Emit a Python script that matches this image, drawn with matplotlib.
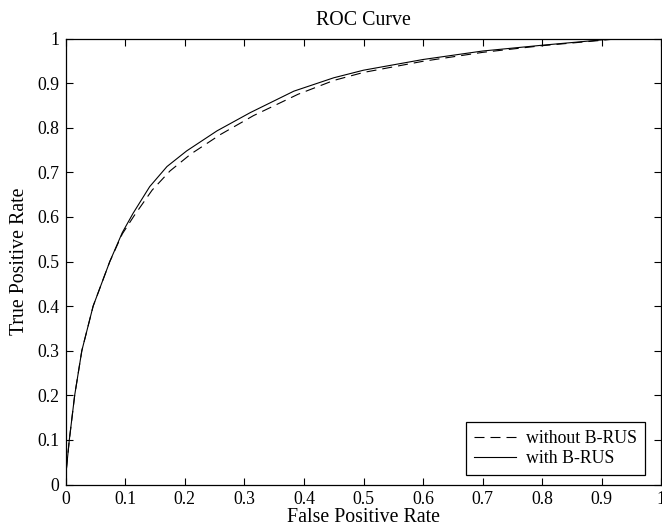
import matplotlib as mpl
mpl.use('Agg')
import matplotlib.pyplot as plt

# ROC points (False Positive Rate, True Positive Rate)
fpr_with = [0.0, 0.0, 0.006, 0.015, 0.027, 0.046, 0.074, 0.095, 0.113, 0.141, 0.170,
            0.203, 0.254, 0.310, 0.383, 0.45, 0.5, 0.6, 0.7, 0.8, 0.9, 0.92, 1.0]
tpr_with = [0.0, 0.02, 0.1, 0.2, 0.3, 0.4, 0.5, 0.565, 0.608, 0.668, 0.713,
            0.748, 0.793, 0.834, 0.882, 0.912, 0.929, 0.953, 0.972, 0.985, 0.997, 1.0, 1.0]

fpr_without = [0.0, 0.0, 0.006, 0.015, 0.027, 0.046, 0.074, 0.095, 0.115, 0.145, 0.175,
               0.21, 0.26, 0.315, 0.39, 0.45, 0.5, 0.6, 0.7, 0.8, 0.9, 0.93, 1.0]
tpr_without = [0.0, 0.02, 0.1, 0.2, 0.3, 0.4, 0.5, 0.562, 0.603, 0.66, 0.703,
               0.741, 0.785, 0.827, 0.875, 0.906, 0.924, 0.949, 0.969, 0.984, 0.996, 1.0, 1.0]

plt.rcParams['font.family'] = ['Liberation Serif', 'DejaVu Serif']
plt.rcParams['font.size'] = 12.8

fig = plt.figure(figsize=(6.62, 5.30), dpi=100)
ax = fig.add_axes([0.0993, 0.0858, 0.8997, 0.8415])

ax.plot(fpr_without, tpr_without, color='black', linewidth=0.8,
        linestyle=(0, (9, 5.4)), label='without B-RUS')
ax.plot(fpr_with, tpr_with, color='black', linewidth=0.8, label='with B-RUS')

ax.set_xlim(0, 1)
ax.set_ylim(0, 1)
ticks = [i / 10 for i in range(11)]
ax.set_xticks(ticks)
ax.set_yticks(ticks)
ax.set_xticklabels(['0'] + ['%.1f' % t for t in ticks[1:-1]] + ['1'])
ax.set_yticklabels(['0'] + ['%.1f' % t for t in ticks[1:-1]] + ['1'])
ax.tick_params(direction='in', top=True, right=True, length=5, width=0.8)
ax.tick_params(axis='x', pad=5)
ax.tick_params(axis='y', pad=4.5)
for s in ax.spines.values():
    s.set_linewidth(0.9)

ax.set_title('ROC Curve', fontsize=14.3, pad=10)
ax.set_xlabel('False Positive Rate', fontsize=14.3, labelpad=0)
ax.set_ylabel('True Positive Rate', fontsize=14.3, labelpad=6)

leg = ax.legend(loc='lower right', bbox_to_anchor=(0.972, 0.0213), borderaxespad=0,
                fancybox=False, framealpha=1, edgecolor='black',
                handlelength=2.36, borderpad=0.45, labelspacing=0.15,
                handletextpad=0.56, fontsize=12.8)
leg.get_frame().set_linewidth(0.9)

fig.savefig('out.png', dpi=100)
